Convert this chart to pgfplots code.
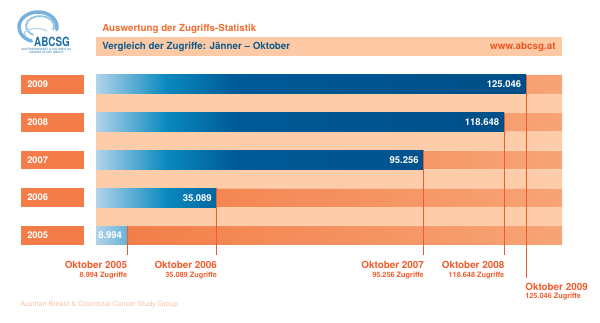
\documentclass[border=0pt]{standalone}
\usepackage{pgfplots}
\pgfplotsset{compat=1.18}
\usepackage{fontspec}
\setmainfont{TeX Gyre Heros}
\definecolor{cL}{RGB}{178,212,234}
\definecolor{cM}{RGB}{10,137,190}
\definecolor{cD}{RGB}{0,90,150}
\definecolor{cE}{RGB}{0,78,136}
\colorlet{cE08}{cE!92!cD}
\colorlet{cE07}{cE!65!cD}
\colorlet{cE06}{cD!72!cM}
\colorlet{cE05}{cM!44!cL}
\definecolor{yearC}{RGB}{244,124,72}
\definecolor{hdrC}{RGB}{253,202,165}
\definecolor{peachC}{RGB}{253,204,168}
\definecolor{bandL}{RGB}{242,124,70}
\definecolor{bandR}{RGB}{247,164,118}
\definecolor{titleC}{RGB}{242,108,48}
\definecolor{blueT}{RGB}{14,92,142}
\definecolor{urlC}{RGB}{236,88,36}
\definecolor{lineC}{RGB}{239,92,44}
\definecolor{footC}{RGB}{249,192,160}
\definecolor{logoL}{RGB}{120,178,220}
\definecolor{logoD}{RGB}{26,108,170}
\pgfdeclarehorizontalshading{bar09}{100bp}{color(0bp)=(cL); color(25bp)=(cL); color(33.14bp)=(cM); color(41.28bp)=(cD); color(75bp)=(cE); color(100bp)=(cE)}
\pgfdeclarehorizontalshading{bar08}{100bp}{color(0bp)=(cL); color(25bp)=(cL); color(33.58bp)=(cM); color(42.16bp)=(cD); color(75bp)=(cE08); color(100bp)=(cE08)}
\pgfdeclarehorizontalshading{bar07}{100bp}{color(0bp)=(cL); color(25bp)=(cL); color(35.68bp)=(cM); color(46.37bp)=(cD); color(75bp)=(cE07); color(100bp)=(cE07)}
\pgfdeclarehorizontalshading{bar06}{100bp}{color(0bp)=(cL); color(25bp)=(cL); color(54bp)=(cM); color(75bp)=(cE06); color(100bp)=(cE06)}
\pgfdeclarehorizontalshading{bar05}{100bp}{color(0bp)=(cL); color(25bp)=(cL); color(75bp)=(cE05); color(100bp)=(cE05)}
\begin{document}
\begin{tikzpicture}
\begin{scope}[x=0.75pt,y=-0.75pt]
% logo swirl
\draw[logoL, line width=2.6pt, line cap=round] (31.5,41.1) arc[start angle=110, end angle=370, x radius=19, y radius=15];
\draw[logoL!80, line width=1.3pt, line cap=round] (33,34.7) arc[start angle=120, end angle=380, x radius=14, y radius=10];
\draw[logoL!55, line width=0.9pt, line cap=round] (26,36) arc[start angle=150, end angle=330, x radius=12, y radius=5];
\node[anchor=base west, inner sep=0pt, text=logoD, font=\bfseries\fontsize{9.5pt}{10pt}\selectfont, xscale=0.78] at (34,47) {ABCSG};
\node[anchor=base west, inner sep=0pt, text=logoD, font=\fontsize{2.2pt}{2.4pt}\selectfont] at (21,51) {AUSTRIAN BREAST \& COLORECTAL};
\node[anchor=base west, inner sep=0pt, text=logoD, font=\fontsize{2.2pt}{2.4pt}\selectfont] at (29,54) {CANCER STUDY GROUP};
% header
\node[anchor=base west, inner sep=0pt, text=titleC, font=\bfseries\fontsize{7.3pt}{8pt}\selectfont] at (102,32) {Auswertung der Zugriffs-Statistik};
\fill[hdrC] (96,37) rectangle (562,56);
\node[anchor=base west, inner sep=0pt, text=blueT, font=\bfseries\fontsize{7.35pt}{8pt}\selectfont] at (102,50) {Vergleich der Zugriffe: Jänner – Oktober};
\node[anchor=base east, inner sep=0pt, text=urlC, font=\bfseries\fontsize{7.4pt}{8pt}\selectfont] at (556,50) {www.abcsg.at};
% year boxes
\foreach \k/\yr in {0/2009,1/2008,2/2007,3/2006,4/2005}{
  \fill[yearC] (21,{75+37.78*\k}) rectangle (84,{93.9+37.78*\k});
  \node[anchor=base west, inner sep=0pt, text=white, font=\bfseries\fontsize{7pt}{8pt}\selectfont] at (27,{87.5+37.78*\k}) {\yr};
}
% footer
\node[anchor=base west, inner sep=0pt, text=footC, font=\fontsize{5.4pt}{6pt}\selectfont] at (20,307) {Austrian Breast \& Colorectal Cancer Study Group};
\end{scope}
\begin{axis}[
  at={(72pt,-183.75pt)}, anchor=south west,
  scale only axis, width=349.5pt, height=127.5pt,
  hide axis, clip=false,
  xmin=0, xmax=135514, ymin=0.75, ymax=5.25,
]
% background bands
\addplot[xbar, bar width=0.5, bar shift=0pt, draw=none, left color=bandL, right color=bandR]
  coordinates {(135514,5) (135514,4) (135514,3) (135514,2) (135514,1)};
\addplot[xbar, bar width=0.5, bar shift=0pt, draw=none, fill=peachC]
  coordinates {(135514,4.5) (135514,3.5) (135514,2.5) (135514,1.5)};
% data bars
\addplot[xbar, bar width=0.5, bar shift=0pt, draw=none, shading=bar09] coordinates {(125046,5)};
\addplot[xbar, bar width=0.5, bar shift=0pt, draw=none, shading=bar08] coordinates {(118648,4)};
\addplot[xbar, bar width=0.5, bar shift=0pt, draw=none, shading=bar07] coordinates {(95256,3)};
\addplot[xbar, bar width=0.5, bar shift=0pt, draw=none, shading=bar06] coordinates {(35089,2)};
\addplot[xbar, bar width=0.5, bar shift=0pt, draw=none, shading=bar05] coordinates {(8994,1)};
% marker lines
\addplot[lineC, line width=0.6pt, no marks] coordinates {(125046,5.25) (125046,-0.12)};
\addplot[lineC, line width=0.6pt, no marks] coordinates {(118648,4.25) (118648,0.486)};
\addplot[lineC, line width=0.6pt, no marks] coordinates {(95256,3.25) (95256,0.486)};
\addplot[lineC, line width=0.6pt, no marks] coordinates {(35089,2.25) (35089,0.486)};
\addplot[lineC, line width=0.6pt, no marks] coordinates {(8994,1.25) (8994,0.486)};
% value labels
\foreach \v/\y/\t in {125046/5/125.046, 118648/4/118.648, 95256/3/95.256, 35089/2/35.089, 8994/1/8.994}{
  \edef\temp{\noexpand\node[anchor=east, inner sep=0pt, xshift=-3.5pt, text=white, font=\noexpand\bfseries\noexpand\fontsize{7.1pt}{8pt}\noexpand\selectfont] at (axis cs:\v,\y) {\t};}
  \temp
}
% bottom labels
\node[anchor=base east, inner sep=0pt, xshift=0.4pt, text=lineC, font=\bfseries\fontsize{7.4pt}{8pt}\selectfont] at (axis cs:8994,0.115) {Oktober 2005};
\node[anchor=base east, inner sep=0pt, xshift=0.4pt, text=lineC, font=\bfseries\fontsize{5.5pt}{6pt}\selectfont] at (axis cs:8994,-0.123) {8.994 Zugriffe};
\node[anchor=base east, inner sep=0pt, xshift=0.4pt, text=lineC, font=\bfseries\fontsize{7.4pt}{8pt}\selectfont] at (axis cs:35089,0.115) {Oktober 2006};
\node[anchor=base east, inner sep=0pt, xshift=0.4pt, text=lineC, font=\bfseries\fontsize{5.5pt}{6pt}\selectfont] at (axis cs:35089,-0.123) {35.089 Zugriffe};
\node[anchor=base east, inner sep=0pt, xshift=0.4pt, text=lineC, font=\bfseries\fontsize{7.4pt}{8pt}\selectfont] at (axis cs:95256,0.115) {Oktober 2007};
\node[anchor=base east, inner sep=0pt, xshift=0.4pt, text=lineC, font=\bfseries\fontsize{5.5pt}{6pt}\selectfont] at (axis cs:95256,-0.123) {95.256 Zugriffe};
\node[anchor=base east, inner sep=0pt, xshift=0.4pt, text=lineC, font=\bfseries\fontsize{7.4pt}{8pt}\selectfont] at (axis cs:118648,0.115) {Oktober 2008};
\node[anchor=base east, inner sep=0pt, xshift=0.4pt, text=lineC, font=\bfseries\fontsize{5.5pt}{6pt}\selectfont] at (axis cs:118648,-0.123) {118.648 Zugriffe};
\node[anchor=base west, inner sep=0pt, xshift=-0.7pt, text=lineC, font=\bfseries\fontsize{7.4pt}{8pt}\selectfont] at (axis cs:125046,-0.467) {Oktober 2009};
\node[anchor=base west, inner sep=0pt, xshift=-0.7pt, text=lineC, font=\bfseries\fontsize{5.5pt}{6pt}\selectfont] at (axis cs:125046,-0.679) {125.046 Zugriffe};
\end{axis}
\pgfresetboundingbox
\path[use as bounding box] (0,0) rectangle (450pt,-242.25pt);
\end{tikzpicture}
\end{document}
